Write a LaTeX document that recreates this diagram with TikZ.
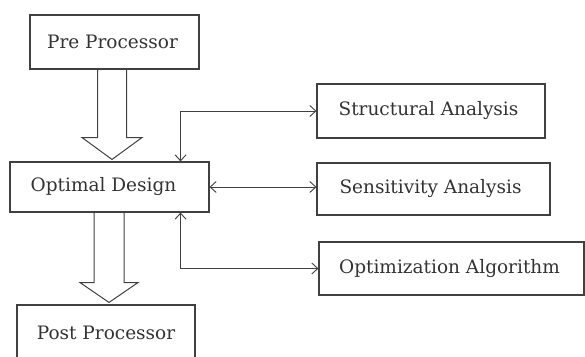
\documentclass[tikz,border=0pt]{standalone}
\usepackage{fontspec}
\setmainfont{DejaVu Serif}
\usetikzlibrary{calc,arrows.meta}
\begin{document}
\begin{tikzpicture}[x=1pt,y=-1pt,
  box/.style={draw=black!75,line width=1.1pt,text=black!80,inner sep=0pt,font=\fontsize{18.5}{20}\selectfont},
  fat/.style={draw=black!75,line width=1pt,line join=miter},
  biarrow/.style={draw=black!75,line width=0.9pt,{Straight Barb[length=6pt,width=11pt]}-{Straight Barb[length=6pt,width=11pt]}}]
\useasboundingbox (0,0) rectangle (585,356);
\node[box,minimum width=169pt,minimum height=54pt] (pre) at (114.5,42) {\hspace*{-4pt}Pre Processor};
\node[box,minimum width=199pt,minimum height=50pt] (opt) at (109.5,187) {\hspace*{-12pt}Optimal Design};
\node[box,minimum width=178pt,minimum height=56pt] (post) at (106,333) {Post Processor};
\node[box,minimum width=228pt,minimum height=54pt] (struct) at (431,111) {\hspace*{-5pt}Structural Analysis};
\node[box,minimum width=233pt,minimum height=52pt] (sens) at (433.5,189) {\hspace*{-6pt}Sensitivity Analysis};
\node[box,minimum width=265pt,minimum height=53pt] (optim) at (451.5,268.5) {\hspace*{-4pt}Optimization Algorithm};
% hollow arrow pre -> opt
\coordinate (a1) at ($(pre.south)+(-2.5,0)$);
\draw[fat] ($(a1)+(-14.5,0)$) -- ($(a1)+(-14.5,68)$) -- ($(a1)+(-30,68)$) -- ($(a1|-opt.north)+(0,-2)$) -- ($(a1)+(30,68)$) -- ($(a1)+(14.5,68)$) -- ($(a1)+(14.5,0)$);
% hollow arrow opt -> post
\coordinate (a2) at ($(opt.south)+(-0.5,0)$);
\draw[fat] ($(a2)+(-15,0)$) -- ($(a2)+(-15,70)$) -- ($(a2)+(-29,70)$) -- ($(a2|-post.north)+(0,-2)$) -- ($(a2)+(29,70)$) -- ($(a2)+(15,70)$) -- ($(a2)+(15,0)$);
% bidirectional connectors
\draw[biarrow] ($(opt.north east)+(-29,0)$) |- (struct.west);
\draw[biarrow] (opt.east) -- (opt.east -| sens.west);
\draw[biarrow] ($(opt.south east)+(-29,0)$) |- (optim.west);
\end{tikzpicture}
\end{document}
